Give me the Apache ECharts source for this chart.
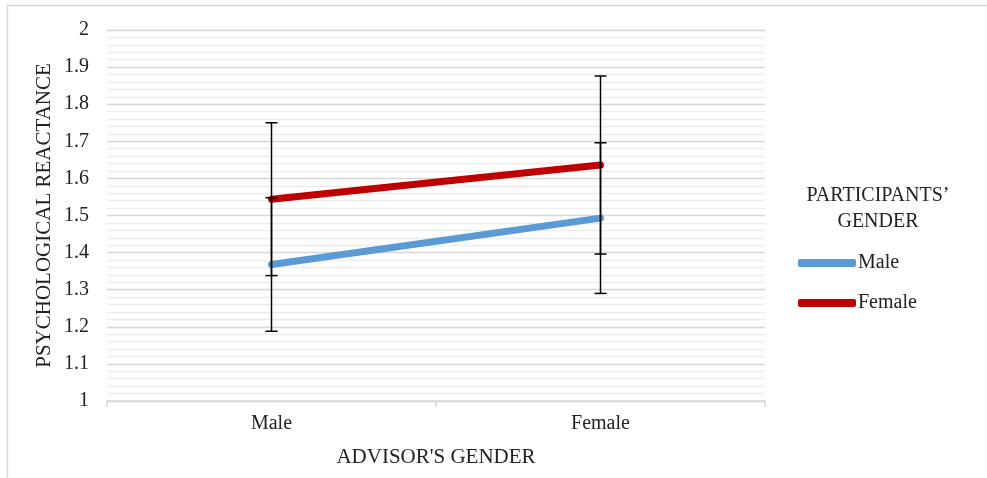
<!DOCTYPE html>
<html>
<head>
<meta charset="utf-8">
<script src="https://cdn.jsdelivr.net/npm/echarts@6/dist/echarts.min.js"></script>
<style>
  html, body { margin: 0; padding: 0; background: #fff; }
  #chart { width: 987px; height: 478px; }
</style>
</head>
<body>
<div id="chart"></div>
<script>
// advisor's gender on the x axis
const advisorGender = ['Male', 'Female'];
// participants' gender series (means)
const maleMeans = [1.368, 1.493];
const femaleMeans = [1.544, 1.636];
// error bar half widths
const maleErr = [0.18, 0.203];
const femaleErr = [0.206, 0.24];

const serif = 'Liberation Serif';
const chart = echarts.init(document.getElementById('chart'));

const errData = (means, errs) => means.map((m, i) => [i, m - errs[i], m + errs[i]]);

const errorBarSeries = (name, means, errs) => ({
  name: name + ' err',
  type: 'custom',
  z: 3,
  data: errData(means, errs),
  renderItem: (params, api) => {
    const low = api.coord([api.value(0), api.value(1)]);
    const high = api.coord([api.value(0), api.value(2)]);
    const half = 6;
    const style = { stroke: '#000', lineWidth: 1.5 };
    return {
      type: 'group',
      children: [
        { type: 'line', shape: { x1: low[0], y1: low[1], x2: high[0], y2: high[1] }, style },
        { type: 'line', shape: { x1: low[0] - half, y1: low[1], x2: low[0] + half, y2: low[1] }, style },
        { type: 'line', shape: { x1: high[0] - half, y1: high[1], x2: high[0] + half, y2: high[1] }, style }
      ]
    };
  }
});

const option = {
  animation: false,
  textStyle: { fontFamily: serif },
  grid: { left: 107, right: 222, top: 30, bottom: 77 },
  xAxis: {
    type: 'category',
    data: advisorGender,
    name: "ADVISOR'S GENDER",
    nameLocation: 'middle',
    nameGap: 46,
    nameTextStyle: { fontSize: 21, color: '#222', fontFamily: serif },
    axisLine: { lineStyle: { color: '#d9d9d9', width: 1.5 } },
    axisTick: { show: true, length: 6, lineStyle: { color: '#d9d9d9', width: 1.5 } },
    axisLabel: { fontSize: 20, color: '#222', margin: 13, fontFamily: serif },
    splitLine: { show: false }
  },
  yAxis: {
    type: 'value',
    min: 1,
    max: 2,
    interval: 0.1,
    name: 'PSYCHOLOGICAL REACTANCE',
    nameLocation: 'middle',
    nameGap: 52,
    nameMoveOverlap: false,
    nameTextStyle: { fontSize: 21, color: '#222', fontFamily: serif },
    axisLine: { show: false },
    axisTick: { show: false },
    axisLabel: { fontSize: 20, color: '#222', margin: 18, fontFamily: serif },
    splitLine: { lineStyle: { color: '#d6d6d6', width: 1.3 } },
    minorTick: { show: false, splitNumber: 5 },
    minorSplitLine: { show: true, lineStyle: { color: '#ececec', width: 1.3 } }
  },
  legend: {
    orient: 'vertical',
    left: 793,
    top: 248,
    itemGap: 20,
    itemWidth: 58,
    itemHeight: 8,
    icon: 'roundRect',
    data: ['Male', 'Female'],
    textStyle: { fontSize: 20, color: '#222', fontFamily: serif, padding: [0, 0, 0, -3] }
  },
  graphic: [
    { type: 'line', shape: { x1: 7, y1: 5.5, x2: 987, y2: 5.5 }, style: { stroke: '#d9d9d9', lineWidth: 1.5 } },
    { type: 'line', shape: { x1: 7.5, y1: 5, x2: 7.5, y2: 478 }, style: { stroke: '#d9d9d9', lineWidth: 1.5 } },
    {
      type: 'text',
      x: 878,
      y: 183,
      style: {
        text: 'PARTICIPANTS’\nGENDER',
        fontSize: 20,
        fontFamily: serif,
        fill: '#222',
        align: 'center',
        lineHeight: 26
      }
    }
  ],
  series: [
    {
      name: 'Male',
      type: 'line',
      data: maleMeans,
      symbol: 'none',
      color: '#5b9bd5',
      lineStyle: { width: 7, cap: 'round', color: '#5b9bd5' },
      z: 2
    },
    {
      name: 'Female',
      type: 'line',
      data: femaleMeans,
      symbol: 'none',
      color: '#c00000',
      lineStyle: { width: 7, cap: 'round', color: '#c00000' },
      z: 2
    },
    errorBarSeries('Male', maleMeans, maleErr),
    errorBarSeries('Female', femaleMeans, femaleErr)
  ]
};

chart.setOption(option);
</script>
</body>
</html>
